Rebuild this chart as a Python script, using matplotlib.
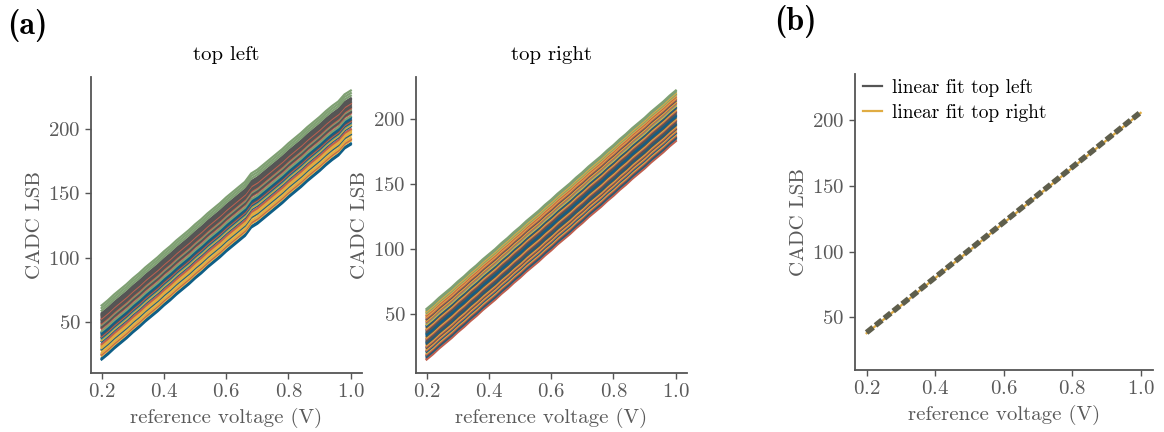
import matplotlib
matplotlib.use("Agg")
import matplotlib.pyplot as plt
from matplotlib.lines import Line2D
import numpy as np

plt.rcParams['font.family'] = 'cmr10'
plt.rcParams['mathtext.fontset'] = 'cm'
plt.rcParams['axes.formatter.use_mathtext'] = True

# colours
GREEN = '#7fa073'
GREY = '#555555'
RED = '#c0604f'
BLUE = '#0f5f87'
GOLD = '#e0ac42'
TXT = '#5a5a5a'

# reference voltage grid (V)
voltage = np.round(np.arange(0.20, 1.0001, 0.02), 2)

# top left: lowest trace
base_left = [21.0, 25.0, 29.5, 33.5, 37.5, 42.0, 46.0, 50.5, 54.5, 58.5,
             63.0, 67.0, 71.5, 75.5, 79.5, 84.0, 88.0, 92.5, 96.5, 100.5,
             105.0, 109.0, 113.0, 117.0, 123.5, 126.5, 130.5, 134.5, 138.5, 142.5,
             147.0, 151.0, 155.0, 159.5, 163.5, 167.5, 172.0, 176.0, 179.5, 185.0,
             188.0]
# offsets of the other traces above the lowest one, and their colours (bottom -> top)
offs_left = [0, 1, 3, 4, 5, 7, 8, 9, 10, 11, 12, 14, 15, 16, 17, 18, 19, 20,
             21, 22, 24, 25, 26, 27, 28, 29, 30, 31, 32, 33, 34, 35, 36, 38, 40, 42]
cols_left = [BLUE, BLUE, GOLD, RED, GOLD, GOLD, BLUE, GOLD, GOLD, GOLD, RED, BLUE,
             GOLD, GREEN, BLUE, RED, GREY, BLUE, BLUE, GREEN, RED, GREY, GREY, GREEN,
             RED, GREY, GREY, GREY, RED, GREY, GREY, GREY, GREY, GREEN, GREEN, GREEN]

# top right: lowest trace
base_right = [15.0, 19.0, 23.5, 27.5, 31.5, 36.0, 40.0, 44.5, 48.5, 53.0,
              57.0, 61.0, 65.5, 69.5, 74.0, 78.0, 82.5, 86.5, 90.5, 95.0,
              99.0, 103.5, 107.5, 111.5, 116.0, 120.0, 124.5, 128.5, 132.5, 137.0,
              141.0, 145.5, 149.5, 154.0, 158.0, 162.0, 166.5, 170.5, 174.5, 179.0,
              183.0]
offs_right = [0, 1, 2, 3, 4, 5, 6, 7, 8, 9, 10, 11, 12, 13, 14, 15, 16, 17, 18, 19,
              20, 21, 22, 23, 24, 25, 26, 27, 28, 29, 30, 31, 32, 33, 34, 35, 36, 37,
              38, 39]
cols_right = [RED, RED, BLUE, GREY, RED, GOLD, BLUE, RED, GOLD, GREY, RED, GOLD, GREY,
              BLUE, GREY, GREY, RED, GOLD, GREY, BLUE, BLUE, GREY, GREY, RED, GOLD,
              GREY, BLUE, GOLD, GREEN, RED, GOLD, GREY, RED, GOLD, RED, GOLD, GREEN,
              GOLD, GREEN, GREEN]

# (b) linear fits
fit_x = [0.2, 1.0]
fit_left = [38.5, 206.0]
fit_right = [38.0, 205.5]

fig = plt.figure(figsize=(11.64, 4.32), dpi=100)
ax1 = fig.add_axes([0.0782, 0.1366, 0.2328, 0.685])
ax2 = fig.add_axes([0.3574, 0.1366, 0.2328, 0.685])
ax3 = fig.add_axes([0.7345, 0.1435, 0.2560, 0.685])

FS = 15


def style(ax):
    for s in ['top', 'right']:
        ax.spines[s].set_visible(False)
    for s in ['left', 'bottom']:
        ax.spines[s].set_color(GREY)
        ax.spines[s].set_linewidth(1.3)
    ax.tick_params(colors=GREY, labelcolor=TXT, labelsize=FS, length=4, width=1)
    ax.set_xticks([0.2, 0.4, 0.6, 0.8, 1.0])
    ax.set_xlabel('reference voltage (V)', fontsize=FS, color=TXT, labelpad=5)
    ax.set_ylabel('CADC LSB', fontsize=FS, color=TXT, labelpad=3)


for o, c in zip(offs_left, cols_left):
    ax1.plot(voltage, np.array(base_left) + o, color=c, lw=1.6)
for o, c in zip(offs_right, cols_right):
    ax2.plot(voltage, np.array(base_right) + o, color=c, lw=1.6)

ax3.plot(fit_x, fit_right, color=GOLD, lw=1.6)
ax3.plot(fit_x, fit_left, color='#5e5e4c', lw=4, dashes=(1.5, 0.55))
ax3.set_ylim(10, 235)
handles = [Line2D([], [], color=GREY, lw=1.6), Line2D([], [], color=GOLD, lw=1.6)]
ax3.legend(handles, ['linear fit top left', 'linear fit top right'], loc='upper left',
           frameon=False, fontsize=14, handlelength=1.0, handletextpad=0.5,
           borderaxespad=0.0, labelspacing=0.35, bbox_to_anchor=(0.0, 1.01))

ax1.set_yticks([50, 100, 150, 200])
ax2.set_yticks([50, 100, 150, 200])
ax3.set_yticks([50, 100, 150, 200])
for ax in (ax1, ax2, ax3):
    style(ax)
    ax.set_xlim(0.166, 1.036)

ax1.set_title('top left', fontsize=FS, pad=12)
ax2.set_title('top right', fontsize=FS, pad=12)

fig.text(0.006, 0.94, '(a)', fontsize=23, family='cmb10', va='center')
fig.text(0.665, 0.95, '(b)', fontsize=23, family='cmb10', va='center')

fig.savefig('out.png', dpi=100)
